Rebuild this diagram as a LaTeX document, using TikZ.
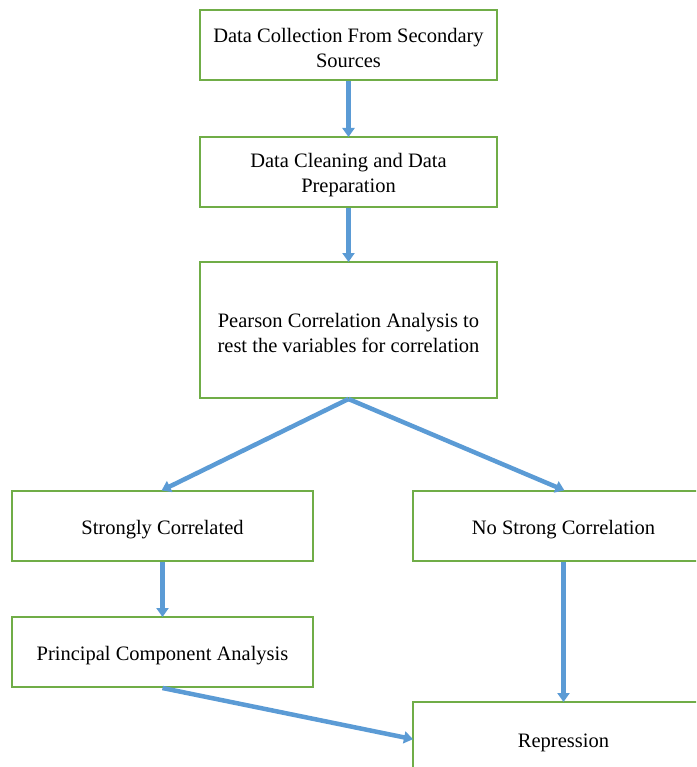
\documentclass[tikz,border=0pt]{standalone}
\usepackage{fontspec}
\setmainfont{Liberation Serif}
\usetikzlibrary{arrows.meta}
\definecolor{boxgreen}{RGB}{112,173,71}
\definecolor{arrowblue}{RGB}{91,155,213}
\begin{document}
\begin{tikzpicture}[x=1pt,y=-1pt,
  stepbox/.style={draw=boxgreen,line width=2pt,fill=white,inner sep=0pt,
    minimum width=297pt,minimum height=70pt,align=center,text height=20.5pt,
    font=\fontsize{20.5}{25}\selectfont},
  twoline/.style={text height=44.5pt},
  flow/.style={draw=arrowblue,line width=4.5pt,-{Triangle[length=9pt,width=12pt]},shorten >=-1pt}]
\useasboundingbox (0,0) rectangle (696,767);
\clip (0,0) rectangle (696,767);
\node[stepbox,twoline] (b1) at (348.5,45) {Data Collection From Secondary\\Sources};
\node[stepbox,twoline] (b2) at (348.5,172) {Data Cleaning and Data\\Preparation};
\node[stepbox,twoline,minimum height=136pt] (b3) at (348.5,330) {Pearson Correlation Analysis to\\rest the variables for correlation};
\node[stepbox,minimum width=301pt] (b4) at (162.5,526) {Strongly Correlated};
\node[stepbox,minimum width=301pt] (b5) at (563.5,526) {No Strong Correlation};
\node[stepbox,minimum width=301pt] (b6) at (162.5,652) {Principal Component Analysis};
\node[stepbox,minimum width=301pt,minimum height=74pt] (b7) at (563.5,739) {Repression};
\draw[flow] (b1.south) -- (b2.north);
\draw[flow] (b2.south) -- (b3.north);
\draw[flow] (b3.south) -- (b4.north);
\draw[flow] (b3.south) -- (b5.north);
\draw[flow] (b4.south) -- (b6.north);
\draw[flow] (b5.south) -- (b7.north);
\draw[flow] (b6.south) -- (b7.west);
\end{tikzpicture}
\end{document}
